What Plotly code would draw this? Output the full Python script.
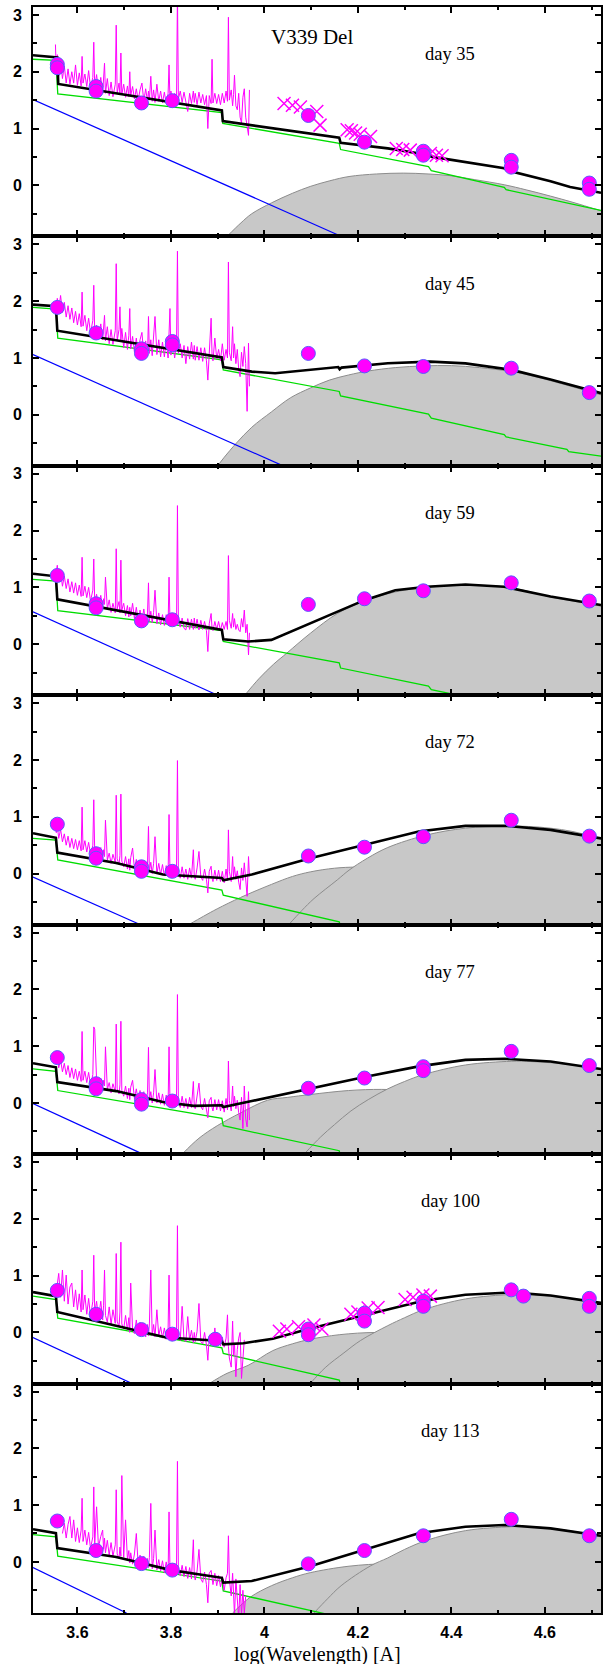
import plotly.graph_objects as go
from plotly.subplots import make_subplots

X_RANGE = [3.505, 4.72]
Y_RANGE = [-0.9, 3.14]
Y_BOTTOM = -0.9
DAYS = ["day 35", "day 45", "day 59", "day 72", "day 77", "day 100", "day 113"]
TITLE = "V339 Del"
XLABEL = "log(Wavelength) [A]"

# ---------------- spectrum (shared wavelength grid, log Angstrom) ----------------
SPEC_X = [3.553, 3.555, 3.557, 3.560, 3.564, 3.568, 3.572, 3.576, 3.580, 3.584, 3.588, 3.592, 3.596, 3.600,
          3.604, 3.608, 3.610, 3.612, 3.616, 3.620, 3.624, 3.628, 3.633, 3.635, 3.637, 3.641,
          3.645, 3.650, 3.654, 3.656, 3.658, 3.660, 3.664, 3.668, 3.672, 3.676, 3.681,
          3.683, 3.685, 3.689, 3.691, 3.693, 3.695, 3.699, 3.703, 3.707, 3.710, 3.712, 3.714, 3.718,
          3.722, 3.726, 3.730, 3.734, 3.738, 3.742, 3.746, 3.750, 3.752, 3.754, 3.757, 3.760, 3.763, 3.766, 3.770,
          3.774, 3.778, 3.782, 3.786, 3.790, 3.794, 3.796, 3.798, 3.800, 3.804, 3.808, 3.812,
          3.814, 3.816, 3.820, 3.824, 3.828, 3.832, 3.836, 3.840, 3.844, 3.848, 3.850, 3.852,
          3.856, 3.860, 3.864, 3.868, 3.872, 3.876, 3.879, 3.882, 3.886, 3.888, 3.890, 3.894, 3.898,
          3.902, 3.906, 3.910, 3.914, 3.918, 3.921, 3.923, 3.925, 3.929, 3.932, 3.934, 3.936, 3.939,
          3.942, 3.945, 3.948, 3.951, 3.954, 3.957, 3.960, 3.963, 3.966, 3.968]

SPEC_D35 = [2.48, 1.95, 2.30, 1.92, 2.18, 1.88, 2.10, 1.80, 2.05, 1.78, 2.00, 1.80, 2.12, 1.76,
            1.98, 1.75, 2.27, 1.80, 1.96, 1.74, 2.02, 1.72, 1.90, 2.52, 1.72, 1.95,
            1.66, 1.90, 1.62, 1.85, 2.15, 1.62, 1.88, 1.58, 1.82, 1.56, 1.78,
            2.82, 1.62, 1.80, 1.60, 2.33, 1.60, 1.78, 1.55, 1.75, 1.56, 2.00, 1.58, 1.74,
            1.52, 1.70, 1.50, 1.68, 1.80, 1.48, 1.70, 1.48, 1.66, 1.50, 1.92, 1.48, 1.68, 1.46, 1.78,
            1.48, 1.66, 1.45, 1.64, 1.44, 1.62, 2.12, 1.50, 1.66, 1.45, 1.62, 1.48,
            3.40, 1.52, 1.66, 1.46, 1.64, 1.45, 1.30, 1.62, 1.44, 1.66, 1.46, 1.62,
            1.42, 1.64, 1.45, 1.60, 1.42, 1.58, 1.00, 1.58, 1.44, 2.22, 1.45, 1.62, 1.44,
            1.60, 1.42, 1.62, 1.45, 1.66, 1.48, 2.96, 1.50, 1.68, 1.40, 1.60, 1.94, 1.40,
            1.33, 1.62, 1.20, 1.10, 1.55, 1.70, 1.20, 1.04, 0.88, 1.68]
SPEC_D45 = [1.95, 1.88, 2.05, 1.85, 2.10, 1.80, 1.98, 1.72, 1.92, 1.68, 1.88, 1.62, 1.82, 1.58,
            1.78, 1.55, 2.16, 1.56, 1.75, 1.48, 1.70, 1.44, 1.66, 2.28, 1.42, 1.58,
            1.36, 1.60, 1.32, 1.52, 1.75, 1.30, 1.55, 1.25, 1.50, 1.24, 1.48,
            2.66, 1.30, 1.50, 1.90, 1.32, 1.52, 1.18, 1.45, 1.15, 1.40, 1.87, 1.16, 1.38,
            1.10, 1.35, 1.08, 1.32, 1.45, 1.05, 1.30, 1.05, 1.73, 1.08, 1.32, 1.04, 1.38, 1.73, 1.06,
            1.32, 1.02, 1.28, 1.02, 1.30, 1.00, 1.35, 1.87, 1.05, 1.28, 1.00, 1.25,
            2.88, 1.08, 1.25, 1.00, 1.22, 0.90, 1.20, 0.98, 1.28, 0.98, 1.22, 0.96,
            1.20, 0.96, 1.18, 0.94, 1.18, 0.95, 0.61, 1.10, 1.70, 1.05, 0.95, 1.35, 0.98,
            1.15, 0.95, 1.25, 0.96, 1.15, 1.00, 2.69, 1.10, 0.95, 1.55, 1.00, 1.25, 0.90,
            1.15, 0.80, 0.67, 1.10, 0.85, 1.20, 0.90, 0.06, 1.26, 0.50]
SPEC_D59 = [1.20, 1.30, 1.39, 1.10, 1.28, 1.02, 1.20, 0.98, 1.15, 0.92, 1.10, 0.90, 1.08, 0.86,
            1.04, 0.84, 1.53, 0.85, 1.02, 0.82, 1.00, 0.76, 0.95, 1.50, 0.74, 0.88,
            0.68, 0.86, 0.64, 0.80, 0.70, 1.18, 0.62, 0.78, 0.56, 0.72, 0.55,
            1.68, 0.62, 0.75, 0.55, 1.48, 0.60, 0.72, 0.50, 0.68, 0.48, 0.65, 0.50, 0.72,
            0.45, 0.65, 0.42, 0.60, 0.40, 0.62, 0.38, 0.55, 1.08, 0.40, 0.58, 0.38, 0.56, 0.95, 0.36,
            0.55, 0.34, 0.52, 0.33, 0.52, 0.35, 1.18, 0.40, 0.50, 0.32, 0.48, 0.34,
            2.44, 0.40, 0.30, 0.46, 0.28, 0.25, 0.45, 0.26, 0.44, 0.26, 0.46, 0.28,
            0.44, 0.25, 0.42, 0.26, 0.40, 0.24, -0.13, 0.36, 0.54, 0.28, 0.24, 0.40, 0.26,
            0.40, 0.24, 0.38, 0.26, 0.40, 0.26, 1.56, 0.42, 0.28, 0.54, 0.30, 0.45, 0.26,
            0.35, 0.25, 0.22, 0.45, 0.30, 0.60, 0.20, 0.35, -0.19, 0.20]
SPEC_D72 = [0.78, 0.72, 0.85, 0.62, 0.78, 0.56, 0.70, 0.50, 0.66, 0.46, 0.62, 0.44, 0.60, 0.42,
            0.58, 0.40, 1.17, 0.42, 0.58, 0.38, 0.55, 0.34, 0.50, 1.30, 0.36, 0.45,
            0.30, 0.46, 0.26, 0.42, 0.30, 0.94, 0.24, 0.36, 0.18, 0.34, 0.20,
            1.38, 0.26, 0.16, 0.32, 1.40, 0.22, 0.12, 0.30, 0.08, 0.26, 0.06, 0.28, 0.45,
            0.08, 0.25, 0.04, 0.22, 0.02, 0.20, 0.00, 0.18, 0.83, 0.04, 0.20, 0.00, 0.18, 0.65, 0.00,
            0.18, -0.02, 0.16, -0.04, 0.14, -0.02, 1.04, 0.02, -0.05, 0.14, -0.06, 0.12,
            1.99, 0.02, -0.08, 0.12, -0.08, 0.08, -0.10, 0.10, -0.08, 0.42, -0.04, -0.10,
            0.10, 0.39, -0.06, -0.12, 0.08, -0.10, -0.34, 0.04, 0.13, -0.08, -0.14, 0.06, -0.12,
            0.06, -0.14, 0.04, -0.16, 0.08, -0.12, 0.77, 0.04, -0.14, 0.30, -0.06, 0.12, -0.10,
            0.05, -0.15, -0.28, 0.10, -0.12, 0.19, -0.15, -0.40, 0.30, -0.05]
SPEC_D77 = [0.76, 0.70, 0.82, 0.62, 0.76, 0.55, 0.70, 0.50, 0.66, 0.45, 0.62, 0.43, 0.60, 0.40,
            0.56, 0.38, 1.26, 0.40, 0.56, 0.36, 0.54, 0.32, 0.50, 1.34, 1.30, 0.41,
            0.30, 0.44, 0.26, 0.40, 0.30, 0.99, 0.24, 0.36, 0.18, 0.34, 0.20,
            1.39, 0.26, 0.16, 0.32, 1.44, 0.22, 0.12, 0.30, 0.08, 0.26, 0.06, 0.28, 0.40,
            0.08, 0.25, 0.04, 0.22, 0.02, 0.20, 0.00, 0.18, 0.98, 0.04, 0.20, 0.00, 0.18, 0.59, 0.00,
            0.18, -0.02, 0.16, -0.04, 0.14, -0.02, 0.99, 0.02, -0.05, 0.14, -0.06, 0.12,
            1.91, 0.02, -0.08, 0.12, -0.08, 0.08, -0.10, 0.10, -0.08, 0.38, -0.04, -0.10,
            0.10, 0.35, -0.06, -0.12, 0.08, -0.10, -0.26, 0.04, 0.10, -0.08, -0.14, 0.06, -0.12,
            0.06, -0.14, 0.04, -0.16, 0.08, -0.12, 0.74, 0.04, -0.14, 0.30, -0.06, 0.12, -0.10,
            0.05, -0.17, -0.30, 0.10, -0.45, 0.30, -0.28, -0.42, 0.20, -0.30]
SPEC_D100 = [None, None, 0.85, 1.04, 0.62, 1.10, 0.55, 1.01, 0.50, 0.80, 0.87, 0.45, 0.75, 0.40,
             0.68, 0.36, 1.10, 0.40, 0.66, 0.32, 0.60, 0.28, 0.55, 1.36, 0.34, 0.55,
             0.25, 0.55, 0.22, 0.48, 1.10, 0.30, 0.18, 0.45, 0.14, 0.40, 0.16,
             1.39, 0.20, 0.10, 0.36, 1.59, 0.15, 0.06, 0.30, 0.04, 0.26, 0.00, 0.87, 0.05,
             -0.02, 0.22, -0.05, 0.18, -0.06, 0.16, -0.08, 0.14, -0.06, 0.15, 1.10, -0.06, 0.14, -0.08, 0.40,
             -0.06, 0.10, -0.10, 0.08, -0.12, 0.06, 1.01, -0.06, -0.12, 0.08, -0.14, 0.05,
             1.88, -0.06, -0.14, 0.46, -0.12, -0.16, 0.28, -0.14, 0.04, -0.18, 0.00, -0.16,
             0.02, 0.51, -0.16, -0.20, 0.00, -0.22, -0.49, -0.06, -0.22, -0.02, -0.20, 0.08, -0.22,
             -0.05, -0.24, -0.08, -0.26, -0.10, 0.31, -0.25, -0.45, -0.61, 0.20, -0.40, -0.20, -0.78,
             -0.30, -0.10, 0.00, -0.81, -0.40, -0.13, None, None, None, None]
SPEC_D113 = [None, None, None, None, None, 0.50, 0.68, 0.42, 0.66, 0.80, 0.42, 0.74, 0.36, 0.60,
             0.34, 0.56, 1.12, 0.36, 0.56, 0.30, 0.52, 0.24, 0.44, 1.32, 0.30, 0.97,
             0.26, 0.45, 0.56, 0.22, 0.42, 0.16, 0.38, 0.12, 0.34, 0.10, 0.30,
             1.27, 0.14, 0.06, 0.26, 0.10, 1.52, 0.08, 0.74, 0.04, 0.20, -0.02, 0.16, -0.04,
             0.14, 0.50, -0.06, 0.12, -0.09, 0.10, -0.12, 0.06, -0.10, 0.08, 1.03, -0.12, 0.06, 0.56, -0.14,
             0.04, -0.16, 0.02, -0.19, 0.00, -0.20, 0.88, -0.14, -0.22, -0.04, -0.23, -0.06,
             1.77, -0.16, -0.24, -0.06, -0.26, -0.08, -0.29, -0.10, -0.30, 0.39, -0.22, -0.32,
             -0.16, 0.22, -0.30, -0.36, -0.18, -0.40, -0.72, -0.20, -0.15, -0.34, -0.40, -0.20, -0.42,
             -0.24, -0.44, -0.26, -0.50, -0.28, -0.20, 0.46, -0.30, -0.60, -0.20, -0.55, -0.95, -0.30,
             -0.70, -1.00, -0.40, -0.95, -0.50, -0.90, -0.60, None, None, None]
SPEC_Y = [SPEC_D35, SPEC_D45, SPEC_D59, SPEC_D72, SPEC_D77, SPEC_D100, SPEC_D113]

# ---------------- model total (black) ----------------
MODEL_X = [
    [3.505, 3.557, 3.559, 3.909, 3.911, 4.16, 4.163, 4.264, 4.351, 4.357, 4.513, 4.521, 4.612, 4.654, 4.72],
    [3.505, 3.554, 3.557, 3.909, 3.912, 3.973, 4.023, 4.098, 4.158, 4.161, 4.165, 4.264, 4.355, 4.43, 4.529, 4.612, 4.72],
    [3.505, 3.554, 3.557, 3.909, 3.912, 3.965, 4.015, 4.081, 4.148, 4.214, 4.28, 4.347, 4.43, 4.513, 4.612, 4.72],
    [3.505, 3.554, 3.557, 3.683, 3.783, 3.909, 3.912, 3.973, 4.098, 4.214, 4.33, 4.43, 4.513, 4.612, 4.72],
    [3.505, 3.554, 3.557, 3.683, 3.783, 3.849, 3.909, 3.912, 3.973, 4.098, 4.214, 4.33, 4.43, 4.513, 4.612, 4.72],
    [3.505, 3.554, 3.557, 3.79, 3.909, 3.912, 3.955, 4.018, 4.094, 4.214, 4.34, 4.43, 4.528, 4.612, 4.72],
    [3.505, 3.554, 3.557, 3.683, 3.80, 3.909, 3.912, 3.973, 4.098, 4.214, 4.33, 4.43, 4.513, 4.612, 4.72],
]
MODEL_Y = [
    [2.29, 2.25, 1.785, 1.32, 1.13, 0.84, 0.75, 0.65, 0.535, 0.505, 0.30, 0.26, 0.07, -0.03, -0.13],
    [1.94, 1.91, 1.48, 1.01, 0.84, 0.76, 0.73, 0.79, 0.84, 0.80, 0.83, 0.906, 0.935, 0.905, 0.79, 0.62, 0.38],
    [1.24, 1.195, 0.79, 0.25, 0.087, 0.047, 0.076, 0.31, 0.54, 0.775, 0.95, 1.01, 1.05, 1.01, 0.84, 0.69],
    [0.71, 0.63, 0.37, 0.186, -0.017, -0.076, -0.116, -0.017, 0.27, 0.505, 0.74, 0.84, 0.843, 0.77, 0.62],
    [0.70, 0.63, 0.37, 0.21, 0.017, -0.05, -0.04, -0.07, 0.035, 0.25, 0.46, 0.645, 0.76, 0.78, 0.73, 0.60],
    [0.71, 0.64, 0.36, -0.09, -0.15, -0.21, -0.19, -0.11, 0.06, 0.30, 0.56, 0.665, 0.705, 0.65, 0.52],
    [0.576, 0.506, 0.244, 0.087, -0.145, -0.28, -0.366, -0.337, -0.076, 0.215, 0.506, 0.62, 0.65, 0.59, 0.46],
]

# ---------------- nebular continuum (green) ----------------
NEB_X = [
    [3.505, 3.554, 3.558, 3.909, 3.911, 4.16, 4.163, 4.351, 4.357, 4.513, 4.517, 4.72],
    [3.505, 3.554, 3.558, 3.909, 3.912, 4.16, 4.163, 4.351, 4.357, 4.513, 4.517, 4.647, 4.651, 4.72],
    [3.505, 3.554, 3.558, 3.909, 3.912, 4.16, 4.163, 4.351, 4.357, 4.45],
    [3.505, 3.554, 3.558, 3.909, 3.912, 4.16, 4.163],
    [3.505, 3.554, 3.558, 3.909, 3.912, 4.16, 4.163],
    [3.505, 3.554, 3.558, 3.909, 3.912, 4.16, 4.163],
    [3.505, 3.554, 3.558, 3.909, 3.912, 4.16],
]
NEB_Y = [
    [2.22, 2.20, 1.61, 1.28, 1.09, 0.74, 0.63, 0.33, 0.26, -0.035, -0.076, -0.44],
    [1.89, 1.86, 1.35, 0.965, 0.79, 0.41, 0.33, 0.012, -0.06, -0.35, -0.39, -0.61, -0.65, -0.73],
    [1.14, 1.11, 0.59, 0.24, 0.047, -0.33, -0.42, -0.74, -0.80, -0.96],
    [0.62, 0.59, 0.24, -0.29, -0.38, -0.85, -0.93],
    [0.60, 0.56, 0.22, -0.27, -0.40, -0.84, -0.95],
    [0.64, 0.58, 0.25, -0.27, -0.37, -0.84, -0.92],
    [0.48, 0.44, 0.10, -0.34, -0.51, -0.97],
]

# ---------------- hot stellar component (blue) ----------------
STAR_X = [[3.505, 4.165], [3.505, 4.04], [3.505, 3.90], [3.505, 3.735],
          [3.505, 3.74], [3.505, 3.717], [3.505, 3.705]]
STAR_Y = [[1.51, -0.9], [1.06, -0.9], [0.57, -0.9], [-0.06, -0.9],
          [-0.01, -0.9], [-0.09, -0.9], [-0.10, -0.9]]

# ---------------- dust components (gray) ----------------
DUST_X = [
    [[3.92, 3.95, 3.973, 4.015, 4.06, 4.098, 4.14, 4.181, 4.24, 4.297, 4.35, 4.397, 4.45, 4.513, 4.56, 4.612, 4.66, 4.72]],
    [[3.90, 3.914, 3.94, 3.973, 4.015, 4.056, 4.098, 4.139, 4.18, 4.222, 4.28, 4.34, 4.40, 4.46, 4.529, 4.57, 4.612, 4.66, 4.72]],
    [[3.958, 3.988, 4.02, 4.048, 4.098, 4.156, 4.214, 4.28, 4.347, 4.43, 4.513, 4.56, 4.612, 4.66, 4.72]],
    [[3.838, 3.87, 3.899, 3.949, 4.015, 4.06, 4.098, 4.15, 4.197, 4.264, 4.347, 4.43, 4.513, 4.612, 4.72],
     [4.052, 4.08, 4.106, 4.156, 4.181, 4.22, 4.264, 4.347, 4.43, 4.513, 4.565, 4.612, 4.66, 4.72]],
    [[3.824, 3.86, 3.899, 3.95, 4.007, 4.05, 4.098, 4.18, 4.25, 4.30, 4.388, 4.45, 4.513, 4.58, 4.65, 4.72],
     [4.085, 4.12, 4.15, 4.185, 4.222, 4.264, 4.30, 4.34, 4.43, 4.528, 4.57, 4.612, 4.66, 4.72]],
    [[3.882, 3.92, 3.965, 4.018, 4.06, 4.098, 4.16, 4.239, 4.31, 4.388, 4.47, 4.554, 4.64, 4.72],
     [4.098, 4.13, 4.17, 4.206, 4.264, 4.30, 4.34, 4.43, 4.528, 4.57, 4.612, 4.66, 4.72]],
    [[3.932, 3.97, 4.015, 4.06, 4.098, 4.181, 4.264, 4.347, 4.43, 4.529, 4.612, 4.72],
     [4.106, 4.135, 4.164, 4.227, 4.264, 4.30, 4.347, 4.43, 4.529, 4.57, 4.612, 4.66, 4.72]],
]
DUST_Y = [
    [[-0.9, -0.66, -0.50, -0.31, -0.14, -0.02, 0.08, 0.155, 0.20, 0.215, 0.20, 0.17, 0.10, 0.01, -0.08, -0.19, -0.30, -0.45]],
    [[-0.9, -0.75, -0.50, -0.22, 0.05, 0.30, 0.47, 0.61, 0.70, 0.77, 0.83, 0.86, 0.865, 0.83, 0.76, 0.69, 0.60, 0.49, 0.35]],
    [[-0.9, -0.61, -0.35, -0.157, 0.19, 0.54, 0.76, 0.92, 1.00, 1.04, 1.01, 0.94, 0.83, 0.76, 0.67]],
    [[-0.9, -0.75, -0.62, -0.42, -0.19, -0.05, 0.03, 0.095, 0.115, 0.10, 0.01, -0.13, -0.34, -0.58, -0.86],
     [-0.9, -0.65, -0.44, -0.11, 0.06, 0.27, 0.46, 0.68, 0.80, 0.835, 0.83, 0.80, 0.74, 0.61]],
    [[-0.9, -0.62, -0.40, -0.17, 0.05, 0.10, 0.15, 0.22, 0.24, 0.22, 0.12, 0.00, -0.15, -0.33, -0.52, -0.71],
     [-0.9, -0.60, -0.38, -0.14, 0.06, 0.25, 0.38, 0.50, 0.67, 0.735, 0.73, 0.71, 0.67, 0.59]],
    [[-0.9, -0.72, -0.58, -0.32, -0.20, -0.12, -0.04, 0.00, -0.03, -0.12, -0.28, -0.48, -0.69, -0.90],
     [-0.9, -0.62, -0.36, -0.14, 0.12, 0.26, 0.40, 0.59, 0.67, 0.67, 0.64, 0.59, 0.50]],
    [[-0.9, -0.62, -0.42, -0.28, -0.19, -0.076, -0.035, -0.076, -0.19, -0.37, -0.54, -0.81],
     [-0.9, -0.65, -0.42, -0.07, 0.07, 0.22, 0.38, 0.55, 0.62, 0.62, 0.59, 0.54, 0.44]],
]

# ---------------- photometry (circles) ----------------
PHOT_X = [
    [3.557, 3.557, 3.64, 3.64, 3.737, 3.803, 4.094, 4.214, 4.34, 4.34, 4.528, 4.528, 4.695, 4.695],
    [3.557, 3.64, 3.737, 3.737, 3.803, 3.803, 4.094, 4.214, 4.34, 4.528, 4.695],
    [3.557, 3.64, 3.64, 3.737, 3.803, 4.094, 4.214, 4.34, 4.528, 4.695],
    [3.557, 3.64, 3.64, 3.737, 3.737, 3.803, 4.094, 4.214, 4.34, 4.528, 4.695],
    [3.557, 3.64, 3.64, 3.737, 3.737, 3.803, 4.094, 4.214, 4.34, 4.34, 4.528, 4.695],
    [3.557, 3.64, 3.737, 3.803, 3.895, 4.094, 4.094, 4.214, 4.214, 4.34, 4.34, 4.528, 4.554, 4.695, 4.695],
    [3.557, 3.64, 3.737, 3.803, 4.094, 4.214, 4.34, 4.528, 4.695],
]
PHOT_Y = [
    [2.13, 2.07, 1.74, 1.66, 1.45, 1.49, 1.23, 0.76, 0.60, 0.53, 0.44, 0.32, 0.04, -0.07],
    [1.89, 1.44, 1.16, 1.08, 1.29, 1.23, 1.08, 0.86, 0.85, 0.82, 0.39],
    [1.21, 0.71, 0.64, 0.41, 0.43, 0.70, 0.80, 0.94, 1.08, 0.76],
    [0.87, 0.35, 0.27, 0.12, 0.04, 0.04, 0.31, 0.465, 0.65, 0.94, 0.66],
    [0.80, 0.34, 0.25, 0.06, -0.02, 0.035, 0.26, 0.44, 0.64, 0.57, 0.91, 0.66],
    [0.74, 0.32, 0.05, -0.03, -0.12, 0.06, -0.04, 0.34, 0.20, 0.55, 0.46, 0.75, 0.64, 0.60, 0.46],
    [0.72, 0.20, -0.03, -0.145, -0.035, 0.20, 0.46, 0.75, 0.46],
]

# ---------------- near-IR spectrophotometry (crosses) ----------------
IR_X = [
    [4.042, 4.06, 4.077, 4.112, 4.119, 4.177, 4.186, 4.195, 4.205, 4.227, 4.282, 4.296, 4.312, 4.355, 4.368, 4.38],
    [], [], [], [],
    [4.032, 4.048, 4.073, 4.106, 4.123, 4.185, 4.20, 4.222, 4.243, 4.301, 4.318, 4.339, 4.355],
    [],
]
IR_Y = [
    [1.44, 1.41, 1.38, 1.30, 1.06, 0.98, 0.96, 0.92, 0.90, 0.86, 0.65, 0.63, 0.62, 0.56, 0.53, 0.52],
    [], [], [], [],
    [0.02, 0.06, 0.10, 0.13, 0.06, 0.32, 0.36, 0.43, 0.44, 0.58, 0.62, 0.66, 0.64],
    [],
]

DAY_LABEL_POS = (4.398, 2.31)
TITLE_POS = (4.101, 2.61)

MAGENTA = "#ff00ff"
GREEN = "#00dd00"
BLUE = "#0000ff"
GRAY_FILL = "#c8c8c8"
GRAY_LINE = "#8c8c8c"

for s in SPEC_Y:
    assert len(s) == len(SPEC_X)

N = len(DAYS)
fig = make_subplots(rows=N, cols=1, shared_xaxes=True, vertical_spacing=0)

for i in range(N):
    r = i + 1
    for dx, dy in zip(DUST_X[i], DUST_Y[i]):
        fig.add_trace(go.Scatter(x=[dx[0], dx[-1]], y=[Y_BOTTOM, Y_BOTTOM], mode="lines",
                                 line=dict(width=0, color=GRAY_FILL), hoverinfo="skip"), row=r, col=1)
        fig.add_trace(go.Scatter(x=dx, y=dy, mode="lines", fill="tonexty", fillcolor=GRAY_FILL,
                                 line=dict(color=GRAY_LINE, width=1, shape="spline", smoothing=1.0)),
                      row=r, col=1)
    fig.add_trace(go.Scatter(x=STAR_X[i], y=STAR_Y[i], mode="lines",
                             line=dict(color=BLUE, width=1.2)), row=r, col=1)
    fig.add_trace(go.Scatter(x=NEB_X[i], y=NEB_Y[i], mode="lines",
                             line=dict(color=GREEN, width=1.3)), row=r, col=1)
    fig.add_trace(go.Scatter(x=SPEC_X, y=SPEC_Y[i], mode="lines", connectgaps=False,
                             line=dict(color=MAGENTA, width=1)), row=r, col=1)
    fig.add_trace(go.Scatter(x=MODEL_X[i], y=MODEL_Y[i], mode="lines",
                             line=dict(color="black", width=2.6)), row=r, col=1)
    if IR_X[i]:
        fig.add_trace(go.Scatter(x=IR_X[i], y=IR_Y[i], mode="markers",
                                 marker=dict(symbol="x-thin", size=13, color=MAGENTA,
                                             line=dict(color=MAGENTA, width=1.5))), row=r, col=1)
    fig.add_trace(go.Scatter(x=PHOT_X[i], y=PHOT_Y[i], mode="markers",
                             marker=dict(symbol="circle", size=14, color=MAGENTA,
                                         line=dict(color="#5a5aff", width=1))), row=r, col=1)

fig.update_xaxes(range=X_RANGE, showline=True, linecolor="black", linewidth=2, mirror="allticks",
                 ticks="inside", ticklen=6, tickwidth=1.5, tickcolor="black",
                 tick0=3.6, dtick=0.2, automargin=False,
                 minor=dict(ticks="inside", ticklen=3, tickwidth=1.5, tickcolor="black", dtick=0.1, tick0=3.5),
                 showgrid=False, zeroline=False, ticklabelstandoff=4,
                 tickfont=dict(family="Liberation Sans, Arial", size=16, color="black", weight="bold"))
fig.update_yaxes(range=Y_RANGE, showline=True, linecolor="black", linewidth=2, mirror="allticks",
                 ticks="inside", ticklen=6, tickwidth=1.5, tickcolor="black",
                 tick0=0, dtick=1, automargin=False,
                 minor=dict(ticks="inside", ticklen=4, tickwidth=1.5, tickcolor="black", dtick=0.5, tick0=0),
                 showgrid=False, zeroline=False, ticklabelstandoff=6,
                 tickfont=dict(family="Liberation Sans, Arial", size=16, color="black", weight="bold"))

annotations = []
for i, d in enumerate(DAYS):
    sfx = "" if i == 0 else str(i + 1)
    annotations.append(dict(x=DAY_LABEL_POS[0], y=DAY_LABEL_POS[1], xref="x" + sfx, yref="y" + sfx,
                            text=d, showarrow=False, xanchor="center", yanchor="middle",
                            font=dict(family="Liberation Serif, Times New Roman", size=18.5, color="black")))
annotations.append(dict(x=TITLE_POS[0], y=TITLE_POS[1], xref="x", yref="y", text=TITLE, showarrow=False,
                        xanchor="center", yanchor="middle",
                        font=dict(family="Liberation Serif, Times New Roman", size=21, color="black")))
annotations.append(dict(x=0.5, y=0, xref="paper", yref="paper", text=XLABEL, showarrow=False,
                        xanchor="center", yanchor="middle", yshift=-41,
                        font=dict(family="Liberation Serif, Times New Roman", size=20, color="black")))

fig.update_layout(width=609, height=1664, margin=dict(l=33, r=8, t=7, b=51),
                  plot_bgcolor="white", paper_bgcolor="white", showlegend=False,
                  annotations=annotations)

fig.write_html("out.html", config={"displayModeBar": False},
               post_script="document.body.style.margin='0';")
